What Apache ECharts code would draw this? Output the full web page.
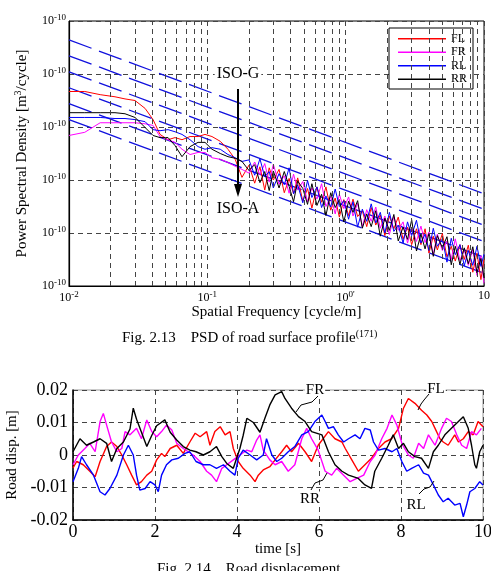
<!DOCTYPE html>
<html lang="en" style="height: 100%">
<head>
  <meta charset="utf-8">
</head>
<body style="height: 100%; margin: 0">
  <div id="container" style="height: 100%"></div>

  <script type="text/javascript" src="https://cdn.jsdelivr.net/npm/echarts@6.0.0/dist/echarts.min.js"></script>

  <script type="text/javascript">
    var dom = document.getElementById('container');
    var myChart = echarts.init(dom, null, {
      renderer: 'canvas',
      useDirtyRect: false
    });
    var option;
    var FONT = '"Liberation Serif", "DejaVu Serif", serif';

    // Fig. 2.13 : spatial frequency [cycle/m] and PSD given as log10 [m3/cycle]
const freq = [0.01, 0.013, 0.0168, 0.0215, 0.0254, 0.03, 0.0355, 0.0405, 0.0455, 0.052,
  0.0584, 0.0656, 0.075, 0.0857, 0.0962, 0.108, 0.124, 0.141, 0.159, 0.178,
  0.20, 0.22, 0.24, 0.26, 0.28, 0.30, 0.33, 0.36, 0.39, 0.42, 0.45, 0.49, 0.53, 0.57,
  0.62, 0.67, 0.72, 0.78, 0.84, 0.90, 0.97, 1.05, 1.13, 1.22, 1.32, 1.42, 1.53, 1.65,
  1.78, 1.92, 2.07, 2.23, 2.40, 2.60, 2.80, 3.00, 3.25, 3.50, 3.75, 4.00, 4.30, 4.60,
  5.00, 5.40, 5.80, 6.20, 6.70, 7.20, 7.70, 8.30, 8.90, 9.50, 10.0];
const psdFL = [-4.33, -4.33, -4.39, -4.43, -4.47, -4.50, -4.65, -4.86, -5.14, -5.24,
  -5.20, -5.24, -5.18, -5.18, -5.14, -5.18, -5.27, -5.42, -5.61, -5.95,
  -5.72, -6.06, -5.75, -6.19, -5.77, -6.00, -5.80, -6.24, -5.97, -6.26, -5.96, -6.40, -6.16, -6.53,
  -6.13, -6.42, -6.13, -6.57, -6.34, -6.70, -6.37, -6.67, -6.36, -6.69, -6.58, -6.88, -6.52, -6.85,
  -6.66, -7.05, -6.68, -6.92, -6.70, -7.12, -6.89, -7.22, -6.92, -7.22, -6.92, -7.38, -7.06, -7.32,
  -7.01, -7.45, -7.25, -7.53, -7.22, -7.50, -7.23, -7.74, -7.38, -7.88, -7.50];
const psdFR = [-5.16, -5.10, -4.92, -4.92, -4.92, -4.92, -4.94, -4.97, -5.18, -5.24,
  -5.29, -5.42, -5.52, -5.48, -5.48, -5.58, -5.61, -5.67, -5.74, -5.80,
  -5.87, -5.66, -5.90, -5.69, -6.04, -5.70, -6.08, -5.92, -6.25, -5.89, -6.19, -6.03, -6.41, -6.15,
  -6.36, -6.07, -6.50, -6.31, -6.64, -6.27, -6.54, -6.32, -6.68, -6.44, -6.88, -6.56, -6.78, -6.51,
  -6.91, -6.68, -7.03, -6.69, -6.95, -6.79, -7.19, -6.90, -7.16, -6.87, -7.18, -6.98, -7.41, -7.02,
  -7.33, -7.15, -7.50, -7.11, -7.52, -7.32, -7.61, -7.31, -7.80, -7.43, -7.95];
const psdRL = [-4.82, -4.82, -4.82, -4.84, -4.84, -4.86, -4.90, -5.05, -5.07, -5.05,
  -5.09, -5.14, -5.24, -5.37, -5.42, -5.39, -5.42, -5.52, -5.58, -5.65,
  -5.62, -5.91, -5.60, -5.94, -5.84, -6.15, -5.88, -6.09, -5.77, -6.26, -6.09, -6.43, -6.01, -6.33,
  -6.13, -6.52, -6.30, -6.51, -6.17, -6.50, -6.39, -6.74, -6.41, -6.89, -6.55, -6.78, -6.45, -6.81,
  -6.61, -7.00, -6.61, -6.97, -6.85, -7.19, -6.79, -7.05, -6.76, -7.19, -7.02, -7.33, -6.91, -7.25,
  -7.11, -7.55, -7.10, -7.41, -7.22, -7.62, -7.33, -7.61, -7.25, -7.63, -7.40];
const psdRR = [-4.73, -4.73, -4.73, -4.73, -4.75, -4.82, -5.01, -5.16, -5.20, -5.20,
  -5.35, -5.56, -5.37, -5.29, -5.29, -5.42, -5.50, -5.56, -5.59, -5.65,
  -5.82, -5.71, -6.05, -5.84, -6.20, -5.83, -6.15, -5.84, -6.12, -6.41, -6.02, -6.16, -6.46, -6.07,
  -6.48, -6.27, -6.67, -6.24, -6.52, -6.37, -6.79, -6.40, -6.61, -6.39, -6.91, -6.64, -6.88, -6.58,
  -7.06, -6.72, -6.95, -6.65, -7.15, -6.89, -7.12, -6.75, -7.34, -7.02, -7.30, -7.01, -7.44, -7.05,
  -7.28, -7.07, -7.60, -7.25, -7.59, -7.28, -7.58, -7.26, -7.75, -7.48, -7.85];

// ISO 8608 class lines: PSD at 0.01 and at 10 cycle/m
const isoFreq = [0.01, 10];
const isoStart = [4.4e-4, 2.2e-4, 1.1e-4, 5.5e-5, 2.75e-5, 1.38e-5];
const isoEnd = [5.5e-7, 2.8e-7, 1.4e-7, 6.9e-8, 3.5e-8, 1.74e-8];
const minorFreq = [0.02, 0.03, 0.04, 0.05, 0.06, 0.07, 0.08, 0.09,
  0.2, 0.3, 0.4, 0.5, 0.6, 0.7, 0.8, 0.9, 2, 3, 4, 5, 6, 7, 8, 9];

// Fig. 2.14 : road displacement [m] vs time [s]
const dispFL = [[0, -0.004], [0.09, -0.002], [0.25, -0.003], [0.41, -0.005], [0.54, -0.0067], [0.66, -0.002],
  [0.82, 0.0026], [0.94, 0.004], [1.07, 0.0026], [1.19, 0], [1.31, -0.003], [1.43, -0.0062], [1.55, -0.0092],
  [1.67, -0.0082], [1.8, -0.0062], [1.92, -0.005], [2.04, -0.0015], [2.16, 0.0005], [2.24, -0.0005], [2.37, 0.002],
  [2.53, 0.003], [2.69, 0.0005], [2.85, 0.004], [2.98, 0.0067], [3.1, 0.0056], [3.26, 0.0072], [3.34, 0.003],
  [3.46, 0.0072], [3.59, 0.0087], [3.71, 0.0062], [3.83, 0.0072], [3.91, 0.002], [4.03, -0.002], [4.15, -0.0041],
  [4.32, -0.0062], [4.44, -0.0082], [4.52, -0.0062], [4.64, -0.0046], [4.8, -0.0036], [4.93, -0.0015], [5.09, 0.001],
  [5.21, 0.003], [5.33, 0.001], [5.5, 0.0036], [5.66, 0.001], [5.82, -0.002], [5.98, 0.003], [6.23, 0.0072],
  [6.39, 0.005], [6.56, 0.004], [6.64, 0.002], [6.8, -0.0015], [6.96, -0.005], [7.12, -0.003], [7.28, -0.001],
  [7.45, 0.002], [7.61, 0.004], [7.77, 0.005], [7.94, 0.0082], [8.06, 0.0144], [8.18, 0.0174], [8.34, 0.0159],
  [8.5, 0.0138], [8.63, 0.0123], [8.75, 0.0103], [8.83, 0.0082], [8.95, 0.005], [9.03, 0.004], [9.15, 0.003],
  [9.31, 0.0062], [9.4, 0.004], [9.52, 0.005], [9.64, 0.0072], [9.76, 0.0062], [9.88, 0.0103], [10, 0.0087]];
const dispFR = [[0, -0.003], [0.13, 0], [0.29, 0.002], [0.41, 0.0036], [0.54, 0.001], [0.66, 0.0103], [0.74, 0.0128],
  [0.82, 0.0092], [0.94, 0.004], [1.07, 0.001], [1.19, 0.002], [1.27, 0.0072], [1.39, 0.0062], [1.55, 0.0082],
  [1.67, 0.005], [1.8, 0.0108], [1.92, 0.0072], [2.04, 0.0056], [2.16, 0.0072], [2.28, 0.0092], [2.41, 0.0077],
  [2.53, 0.0036], [2.69, 0.002], [2.81, 0.001], [2.93, 0], [3.1, -0.002], [3.26, -0.005], [3.38, -0.0062],
  [3.5, -0.0082], [3.63, -0.0041], [3.75, -0.003], [3.91, -0.0015], [4.07, 0], [4.24, 0.0015], [4.36, 0.001],
  [4.48, 0.0046], [4.56, 0.0062], [4.64, 0.0015], [4.8, -0.0015], [4.93, -0.003], [5.09, -0.002], [5.25, -0.005],
  [5.41, -0.003], [5.58, 0.005], [5.7, 0.0082], [5.82, 0.005], [5.98, 0.0015], [6.15, -0.005], [6.31, -0.0062],
  [6.43, -0.0041], [6.6, -0.0062], [6.76, -0.0082], [6.92, -0.0072], [7.09, -0.0062], [7.25, -0.002], [7.37, 0],
  [7.53, 0.005], [7.66, 0.0082], [7.78, 0.0123], [7.9, 0.0092], [8.02, 0.0036], [8.18, 0], [8.3, -0.001],
  [8.43, 0.0036], [8.55, 0.002], [8.67, 0.0062], [8.83, 0.003], [8.99, 0.0082], [9.11, 0.0113], [9.23, 0.0103],
  [9.36, 0.0062], [9.48, 0.003], [9.6, 0.002], [9.72, 0.0072], [9.84, 0.0062], [9.96, 0.0082]];
const dispRL = [[0, -0.0082], [0.13, -0.0041], [0.21, -0.0005], [0.33, -0.003], [0.5, -0.0062], [0.66, -0.0113],
  [0.78, -0.0123], [0.9, -0.0103], [1.07, -0.0062], [1.23, 0], [1.35, 0.003], [1.47, 0], [1.55, -0.0062],
  [1.63, -0.0108], [1.76, -0.0103], [1.88, -0.0082], [2.0, -0.0092], [2.08, -0.0113], [2.16, -0.0062], [2.28, -0.003],
  [2.41, -0.0015], [2.57, -0.001], [2.73, 0.0005], [2.85, 0.001], [3.0, -0.002], [3.18, -0.003], [3.34, -0.003],
  [3.5, -0.0041], [3.67, -0.003], [3.83, -0.005], [3.95, -0.0062], [4.03, -0.001], [4.15, 0.0015], [4.32, 0],
  [4.48, -0.0015], [4.64, 0], [4.72, 0.005], [4.85, 0], [4.97, -0.002], [5.09, -0.001], [5.25, 0.001], [5.41, 0.0026],
  [5.58, 0.0062], [5.74, 0.0072], [5.9, 0.0103], [6.07, 0.0123], [6.15, 0.0103], [6.23, 0.0082], [6.35, 0.0087],
  [6.47, 0.0062], [6.6, 0.004], [6.72, 0.005], [6.88, 0.0062], [7.0, 0.005], [7.12, 0.0082], [7.25, 0.0077],
  [7.33, 0.004], [7.45, 0.0015], [7.61, 0.002], [7.78, 0.001], [7.9, 0.002], [8.02, -0.002], [8.14, -0.005],
  [8.26, -0.0041], [8.43, -0.003], [8.55, -0.0056], [8.67, -0.0062], [8.79, -0.0092], [8.91, -0.0123], [9.03, -0.0144],
  [9.15, -0.0133], [9.31, -0.0154], [9.44, -0.0149], [9.52, -0.019], [9.6, -0.0154], [9.68, -0.0113], [9.8, -0.0103],
  [9.92, -0.0082], [10, -0.0092]];
const dispRR = [[0, 0.001], [0.17, 0.005], [0.33, 0.003], [0.5, 0.004], [0.66, 0.005], [0.82, 0.0036], [0.94, -0.002],
  [1.07, 0.002], [1.23, 0.004], [1.39, 0.008], [1.47, 0.0144], [1.55, 0.011], [1.67, 0.007], [1.8, 0.0026],
  [1.92, 0.006], [2.04, 0.009], [2.24, 0.0108], [2.37, 0.007], [2.53, 0.0046], [2.69, 0.0026], [2.85, 0.0015],
  [3.0, 0.001], [3.18, 0], [3.34, 0.001], [3.5, 0.0026], [3.63, -0.0005], [3.75, -0.0026], [3.91, -0.0041],
  [4.07, 0.002], [4.15, 0.006], [4.24, 0.0113], [4.4, 0.01], [4.56, 0.007], [4.68, 0.0113], [4.8, 0.0154],
  [4.93, 0.0185], [5.09, 0.0195], [5.17, 0.0174], [5.33, 0.0144], [5.5, 0.0118], [5.66, 0.0103], [5.82, 0.0072],
  [6.07, 0.0062], [6.23, 0.001], [6.39, -0.003], [6.56, -0.005], [6.72, -0.0062], [6.96, -0.0072], [7.12, -0.0092],
  [7.28, -0.0103], [7.36, -0.005], [7.53, -0.001], [7.69, 0.003], [7.81, 0.0062], [7.94, 0.002], [8.06, 0.0036],
  [8.18, 0.001], [8.34, -0.0005], [8.5, -0.001], [8.67, -0.0041], [8.79, 0.001], [8.91, 0.003], [9.07, 0.0062],
  [9.23, 0.0082], [9.4, 0.0103], [9.52, 0.0118], [9.64, 0.0082], [9.72, 0.003], [9.8, -0.003], [9.84, -0.0041],
  [9.92, 0.001], [10, 0.003]];

const names = ['FL', 'FR', 'RL', 'RR'];
const colors = ['#ff0000', '#ff00ff', '#0000ff', '#000000'];
const psdLists = [psdFL, psdFR, psdRL, psdRR];
const dispLists = [dispFL, dispFR, dispRL, dispRR];

const supRich = {
  b: { fontFamily: FONT, fontSize: 12, color: '#000' },
  s: { fontFamily: FONT, fontSize: 9, color: '#000', padding: [0, 0, 7, 0] }
};
const gridDash = { color: '#444', width: 1, type: [5, 4] };

var series = [];
// vertical minor grid lines of the log axis
series.push({
  type: 'line', xAxisIndex: 0, yAxisIndex: 0, data: [[0.01, 1e-8]],
  showSymbol: false, silent: true, z: 1, lineStyle: { width: 0 },
  markLine: {
    silent: true, symbol: 'none', label: { show: false },
    lineStyle: gridDash,
    data: minorFreq.map(function (f) { return { xAxis: f }; })
  }
});
isoStart.forEach(function (v, i) {
  series.push({
    name: 'ISO' + i, type: 'line', xAxisIndex: 0, yAxisIndex: 0,
    showSymbol: false, silent: true, z: 2,
    lineStyle: { color: '#1010dd', width: 1.3, type: [24, 8] },
    data: [[isoFreq[0], v], [isoFreq[1], isoEnd[i]]]
  });
});
names.forEach(function (n, k) {
  series.push({
    name: n, type: 'line', xAxisIndex: 0, yAxisIndex: 0, showSymbol: false, z: 3,
    lineStyle: { color: colors[k], width: 1 }, itemStyle: { color: colors[k] },
    data: freq.map(function (f, i) { return [f, Math.pow(10, psdLists[k][i])]; })
  });
});
names.forEach(function (n, k) {
  series.push({
    name: n, type: 'line', xAxisIndex: 1, yAxisIndex: 1, showSymbol: false, z: 3,
    lineStyle: { color: colors[k], width: 1.4 }, itemStyle: { color: colors[k] },
    data: dispLists[k]
  });
});

function xLogLabel(v) {
  var e = Math.round(Math.log10(v));
  if (e === 1) return '{b|10}';
  if (e === 0) return "{b|10}{s|0'}";
  return '{b|10}{s|' + e + '}';
}

option = {
  animation: false,
  backgroundColor: '#fff',
  textStyle: { fontFamily: FONT },
  title: [
    {
      text: 'Fig. 2.13    PSD of road surface profile{s|(171)}',
      left: 122, top: 329, padding: 0,
      textStyle: {
        fontFamily: FONT, fontSize: 15, fontWeight: 'normal', color: '#000',
        rich: { s: { fontFamily: FONT, fontSize: 10, color: '#000', padding: [0, 0, 8, 0] } }
      }
    },
    {
      text: 'Fig. 2.14    Road displacement',
      left: 157, top: 562, padding: 0,
      textStyle: { fontFamily: FONT, fontSize: 15, fontWeight: 'normal', color: '#000' }
    }
  ],
  legend: {
    orient: 'vertical', left: 389, top: 28,
    backgroundColor: '#fff', borderColor: '#000', borderWidth: 1,
    padding: [4, 6, 3, 9], itemGap: 0, itemWidth: 48, itemHeight: 1.5,
    textStyle: { fontFamily: FONT, fontSize: 12, color: '#000', lineHeight: 13.5 },
    data: names.map(function (n) { return { name: n, icon: 'rect' }; })
  },
  grid: [
    { left: 69, top: 21, width: 415, height: 265, show: true, borderColor: '#000', borderWidth: 1, containLabel: false, outerBoundsMode: 'none' },
    { left: 73, top: 390, width: 410, height: 130, show: true, borderColor: '#999', borderWidth: 1, containLabel: false, outerBoundsMode: 'none' }
  ],
  xAxis: [
    {
      type: 'log', gridIndex: 0, logBase: 10, min: 0.01, max: 10,
      name: 'Spatial Frequency [cycle/m]', nameLocation: 'middle', nameGap: 18,
      nameTextStyle: { fontFamily: FONT, fontSize: 15, color: '#000' },
      axisLine: { lineStyle: { color: '#000', width: 1.2 } },
      axisTick: { show: false },
      axisLabel: { formatter: xLogLabel, rich: supRich, margin: 4 },
      splitLine: { show: true, lineStyle: gridDash },
      minorTick: { show: false }, minorSplitLine: { show: false }
    },
    {
      type: 'value', gridIndex: 1, min: 0, max: 10, interval: 2,
      name: 'time [s]', nameLocation: 'middle', nameGap: 20,
      nameTextStyle: { fontFamily: FONT, fontSize: 15, color: '#000' },
      axisLine: { onZero: false, lineStyle: { color: '#000', width: 1.5 } },
      axisTick: { show: false },
      axisLabel: { fontFamily: FONT, fontSize: 18, color: '#000', margin: 3 },
      splitLine: { show: true, lineStyle: gridDash }
    }
  ],
  yAxis: [
    {
      type: 'log', gridIndex: 0, logBase: 10, min: 1e-8, max: 1e-3,
      name: 'Power Spectral Density [m{s|3}/cycle]', nameLocation: 'middle', nameGap: 38, nameRotate: 90,
      nameTextStyle: {
        fontFamily: FONT, fontSize: 15, color: '#000',
        rich: { s: { fontFamily: FONT, fontSize: 10, color: '#000', padding: [0, 0, 8, 0] } }
      },
      axisLine: { lineStyle: { color: '#000', width: 1.2 } },
      axisTick: { show: false },
      axisLabel: { formatter: function () { return '{b|10}{s|-10}'; }, rich: supRich, margin: 3 },
      splitLine: { show: true, lineStyle: gridDash },
      minorTick: { show: false }, minorSplitLine: { show: false }
    },
    {
      type: 'value', gridIndex: 1, min: -0.02, max: 0.02, interval: 0.01,
      name: 'Road disp. [m]', nameLocation: 'middle', nameGap: 53, nameRotate: 90,
      nameTextStyle: { fontFamily: FONT, fontSize: 15, color: '#000' },
      axisLine: { onZero: false, lineStyle: { color: '#000', width: 1.5 } },
      axisTick: { show: false },
      axisLabel: { fontFamily: FONT, fontSize: 18, color: '#000', margin: 5 },
      splitLine: { show: true, lineStyle: gridDash }
    }
  ],
  graphic: [
    { type: 'text', x: 238, y: 74, z: 10, style: { text: 'ISO-G', font: '16px ' + FONT, fill: '#000', align: 'center', verticalAlign: 'middle', backgroundColor: '#fff', padding: [0, 2] } },
    { type: 'line', z: 10, shape: { x1: 238, y1: 89, x2: 238, y2: 186 }, style: { stroke: '#000', lineWidth: 2 } },
    { type: 'polygon', z: 10, shape: { points: [[234, 184], [242, 184], [238, 197]] }, style: { fill: '#000' } },
    { type: 'text', x: 238, y: 209, z: 10, style: { text: 'ISO-A', font: '16px ' + FONT, fill: '#000', align: 'center', verticalAlign: 'middle' } },

    { type: 'text', x: 315, y: 390, z: 10, style: { text: 'FR', font: '15px ' + FONT, fill: '#000', align: 'center', verticalAlign: 'middle', backgroundColor: '#fff', padding: [0, 1] } },
    { type: 'polyline', z: 10, shape: { points: [[318, 396], [312, 402], [301, 405], [296, 412]] }, style: { stroke: '#000', lineWidth: 1, fill: null } },
    { type: 'text', x: 436, y: 389, z: 10, style: { text: 'FL', font: '15px ' + FONT, fill: '#000', align: 'center', verticalAlign: 'middle', backgroundColor: '#fff', padding: [0, 1] } },
    { type: 'polyline', z: 10, shape: { points: [[429, 394], [424, 400], [421, 404], [418, 410]] }, style: { stroke: '#000', lineWidth: 1, fill: null } },
    { type: 'text', x: 310, y: 499, z: 10, style: { text: 'RR', font: '15px ' + FONT, fill: '#000', align: 'center', verticalAlign: 'middle', backgroundColor: '#fff', padding: [0, 1] } },
    { type: 'polyline', z: 10, shape: { points: [[311, 490], [315, 483], [323, 480], [327, 473]] }, style: { stroke: '#000', lineWidth: 1, fill: null } },
    { type: 'text', x: 416, y: 505, z: 10, style: { text: 'RL', font: '15px ' + FONT, fill: '#000', align: 'center', verticalAlign: 'middle', backgroundColor: '#fff', padding: [0, 1] } },
    { type: 'polyline', z: 10, shape: { points: [[419, 494], [424, 489], [430, 487], [434, 481]] }, style: { stroke: '#000', lineWidth: 1, fill: null } }
  ],
  series: series
};

    if (option && typeof option === 'object') {
      myChart.setOption(option);
    }

    window.addEventListener('resize', myChart.resize);
  </script>
</body>
</html>
